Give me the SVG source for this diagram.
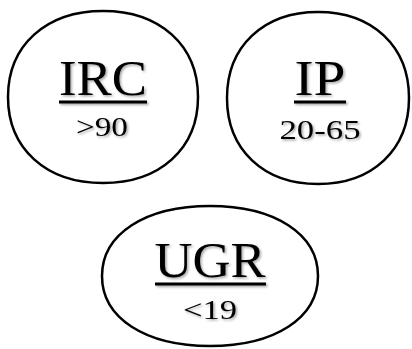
<svg xmlns="http://www.w3.org/2000/svg" width="412" height="349" viewBox="0 0 412 349">
<defs>
<filter id="sh" x="-20%" y="-20%" width="140%" height="140%">
<feDropShadow dx="1.5" dy="1.5" stdDeviation="1" flood-color="#000" flood-opacity="0.35"/>
</filter>
<style>
.shape{fill:#fff;stroke:#000;stroke-width:2.5}
.t{font-family:"Liberation Serif","DejaVu Serif",serif;fill:#000;text-anchor:middle}
.big{font-size:50px}
.small{font-size:28px}
.ul{stroke:#000;stroke-width:3}
.lab{filter:url(#sh)}
</style>
</defs>
<rect width="412" height="349" fill="#fff"/>
<g id="connectors"/>
<g id="node-irc">
<path class="shape" d="M8,97 C8,45.4 46,11 103,11 C160,11 198,45.4 198,97 C198,148.6 160,183 103,183 C46,183 8,148.6 8,97 Z"/>
<g class="lab">
<text class="t big" x="103" y="95" textLength="88" lengthAdjust="spacingAndGlyphs">IRC</text>
<line class="ul" x1="59" y1="102" x2="147" y2="102"/>
<text class="t small" x="102" y="136" textLength="52" lengthAdjust="spacingAndGlyphs">&gt;90</text>
</g>
</g>
<g id="node-ip">
<path class="shape" d="M227,98 C227,46.4 263.4,12 318,12 C372.6,12 409,46.4 409,98 C409,149.6 372.6,184 318,184 C263.4,184 227,149.6 227,98 Z"/>
<g class="lab">
<text class="t big" x="320" y="95" textLength="51" lengthAdjust="spacingAndGlyphs">IP</text>
<line class="ul" x1="294" y1="102" x2="346" y2="102"/>
<text class="t small" x="320" y="139" textLength="81" lengthAdjust="spacingAndGlyphs">20-65</text>
</g>
</g>
<g id="node-ugr">
<path class="shape" d="M102,276 C102,234 145.2,206 210,206 C274.8,206 318,234 318,276 C318,318 274.8,346 210,346 C145.2,346 102,318 102,276 Z"/>
<g class="lab">
<text class="t big" x="210" y="277" textLength="111" lengthAdjust="spacingAndGlyphs">UGR</text>
<line class="ul" x1="155" y1="284" x2="266" y2="284"/>
<text class="t small" x="210" y="319" textLength="54" lengthAdjust="spacingAndGlyphs">&lt;19</text>
</g>
</g>
</svg>
